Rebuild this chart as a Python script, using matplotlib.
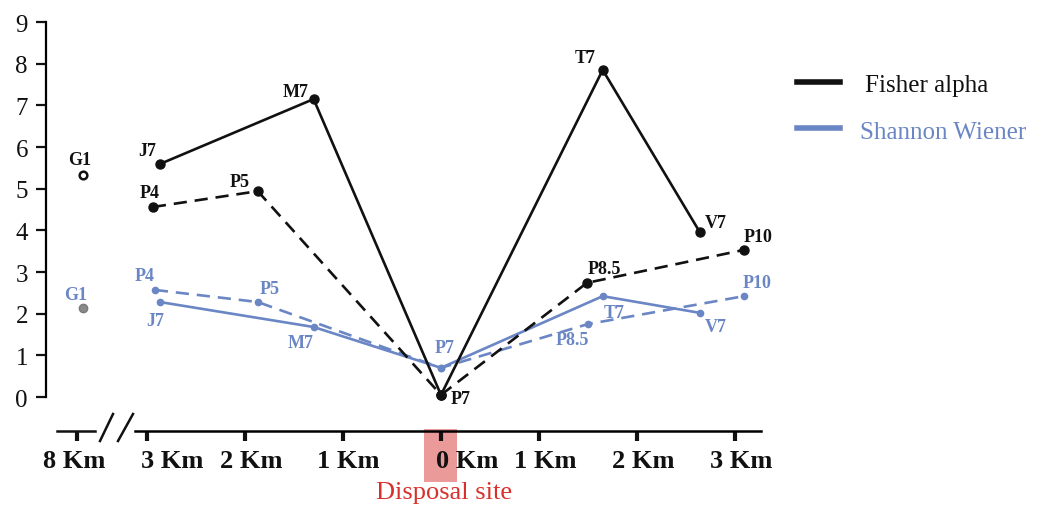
import matplotlib
matplotlib.use("Agg")
import matplotlib.pyplot as plt
from matplotlib.patches import Rectangle
from matplotlib.transforms import ScaledTranslation

plt.rcParams["font.family"] = ["Liberation Serif", "DejaVu Serif"]

# distance from disposal site in km (west negative, east positive); G1 sits at the 8 km reference
x_ref = -3.65
fisher_ref = 5.33
shannon_ref = 2.14

# solid transect: J7 - M7 - P7 - T7 - V7
solid_names = ["J7", "M7", "P7", "T7", "V7"]
solid_x = [-2.87, -1.30, 0.0, 1.65, 2.64]
fisher_solid = [5.59, 7.15, 0.05, 7.85, 3.96]
shannon_solid = [2.28, 1.68, 0.70, 2.42, 2.02]

# dashed transect: P4 - P5 - P7 - P8.5 - P10
dashed_names = ["P4", "P5", "P7", "P8.5", "P10"]
dashed_x = [-2.94, -1.87, 0.0, 1.49, 3.09]
fisher_dashed = [4.56, 4.94, 0.05, 2.74, 3.53]
shannon_dashed_x = [-2.92, -1.87, 0.0, 1.50, 3.09]
shannon_dashed = [2.57, 2.28, 0.70, 1.75, 2.42]

tick_pos = [-3.71, -3, -2, -1, 0, 1, 2, 3]
tick_labels = ["8 Km", "3 Km", "2 Km", "1 Km", "0 Km", "1 Km", "2 Km", "3 Km"]

BLUE = "#6a86c4"
BLACK = "#111111"

# label offsets in pixels
fisher_solid_off = {"J7": (-12, 14), "M7": (-18, 8), "P7": (20, -4), "T7": (-18, 12), "V7": (16, 10)}
fisher_dashed_off = {"P4": (-3, 15), "P5": (-18, 10), "P7": (20, -4), "P8.5": (17, 14), "P10": (14, 13)}
shannon_solid_off = {"J7": (-4, -18), "M7": (-13, -15), "P7": (4, 20), "T7": (11, -16), "V7": (16, -14)}
shannon_dashed_off = {"P4": (-10, 14), "P5": (12, 14), "P8.5": (-16, -15), "P10": (13, 14)}
# horizontal shift of each x tick label (pixels)
tick_shift = [-3, 25, 6, 5, 26, 6, 6, 6]

fig = plt.figure(figsize=(10.39, 5.06), dpi=100)
ax = fig.add_axes([46 / 1039, 1 - 432 / 506, (761 - 46) / 1039, (432 - 23) / 506])
ax.set_xlim((46 - 441) / 98, (761 - 441) / 98)
ax.set_ylim((398 - 432) / 41.67, 9)

ax.plot(solid_x, fisher_solid, color=BLACK, lw=1.9, marker="o", ms=6.5, zorder=4)
ax.plot(dashed_x, fisher_dashed, color=BLACK, lw=1.9, ls=(0, (5, 3)), marker="o", ms=6.5, zorder=4)
ax.plot(solid_x, shannon_solid, color=BLUE, lw=1.9, marker="o", ms=4.5, zorder=3)
ax.plot(shannon_dashed_x, shannon_dashed, color=BLUE, lw=1.9, ls=(0, (5, 3)), marker="o", ms=4.5, zorder=3)
ax.plot([x_ref], [fisher_ref], marker="o", ms=5.5, mfc="white", mec=BLACK, mew=1.8, ls="none")
ax.plot([x_ref], [shannon_ref], marker="o", ms=6, mfc="#8a8a8a", mec="#7a7a7a", ls="none")

lab_kw = dict(textcoords="offset pixels", ha="center", va="center", fontsize=13, fontweight="bold")
for n, x, y in zip(solid_names, solid_x, fisher_solid):
    ax.annotate(n, (x, y), xytext=fisher_solid_off[n], color=BLACK, **lab_kw)
for n, x, y in zip(dashed_names, dashed_x, fisher_dashed):
    if n == "P7":
        continue
    ax.annotate(n, (x, y), xytext=fisher_dashed_off[n], color=BLACK, **lab_kw)
for n, x, y in zip(solid_names, solid_x, shannon_solid):
    ax.annotate(n, (x, y), xytext=shannon_solid_off[n], color=BLUE, **lab_kw)
for n, x, y in zip(dashed_names, shannon_dashed_x, shannon_dashed):
    if n == "P7":
        continue
    ax.annotate(n, (x, y), xytext=shannon_dashed_off[n], color=BLUE, **lab_kw)
ax.annotate("G1", (x_ref, fisher_ref), xytext=(-4, 15), color=BLACK, **lab_kw)
ax.annotate("G1", (x_ref, shannon_ref), xytext=(-8, 13), color=BLUE, **lab_kw)

# axes styling
for s in ["top", "right"]:
    ax.spines[s].set_visible(False)
ax.spines["left"].set_bounds(0, 9)
ax.spines["left"].set_linewidth(1.6)
ax.spines["bottom"].set_bounds((135 - 441) / 98, (761 - 441) / 98)
ax.spines["bottom"].set_linewidth(1.8)
ax.set_yticks(range(10))
ax.tick_params(axis="y", length=7, width=1.6, labelsize=18, pad=6, colors=BLACK)
ax.set_xticks(tick_pos)
ax.set_xticklabels(tick_labels, fontweight="bold")
ax.tick_params(axis="x", length=7, width=3, labelsize=19, pad=6, colors=BLACK)
for lab, dx in zip(ax.get_xticklabels(), tick_shift):
    lab.set_transform(lab.get_transform() + ScaledTranslation(dx / 100, 0, fig.dpi_scale_trans))

# axis break: short left segment and the // marks
y_ax = (398 - 432) / 41.67
ax.plot([(57 - 441) / 98, (95 - 441) / 98], [y_ax, y_ax], color=BLACK, lw=1.8, clip_on=False)
for x0, x1 in [(100, 113), (118, 133)]:
    ax.plot([(x0 - 441) / 98, (x1 - 441) / 98], [(398 - 442) / 41.67, (398 - 415) / 41.67],
            color=BLACK, lw=1.8, clip_on=False)

# disposal site marker
ax.add_patch(Rectangle(((424 - 441) / 98, (398 - 483) / 41.67), 33 / 98, 53 / 41.67,
                       facecolor="#eb9a9a", edgecolor="none", clip_on=False, zorder=0.5))
fig.text(444 / 1039, 1 - 493 / 506, "Disposal site", color="#d8312c", fontsize=19,
         ha="center", va="center")

# legend drawn by hand
fig.add_artist(plt.Line2D([797 / 1039, 840 / 1039], [1 - 83 / 506] * 2, color=BLACK, lw=4))
fig.text(865 / 1039, 1 - 86 / 506, "Fisher alpha", fontsize=18, color=BLACK, va="center")
fig.add_artist(plt.Line2D([797 / 1039, 840 / 1039], [1 - 129 / 506] * 2, color=BLUE, lw=4))
fig.text(860 / 1039, 1 - 133 / 506, "Shannon Wiener", fontsize=18, color=BLUE, va="center")

fig.savefig("out.png", dpi=100)
